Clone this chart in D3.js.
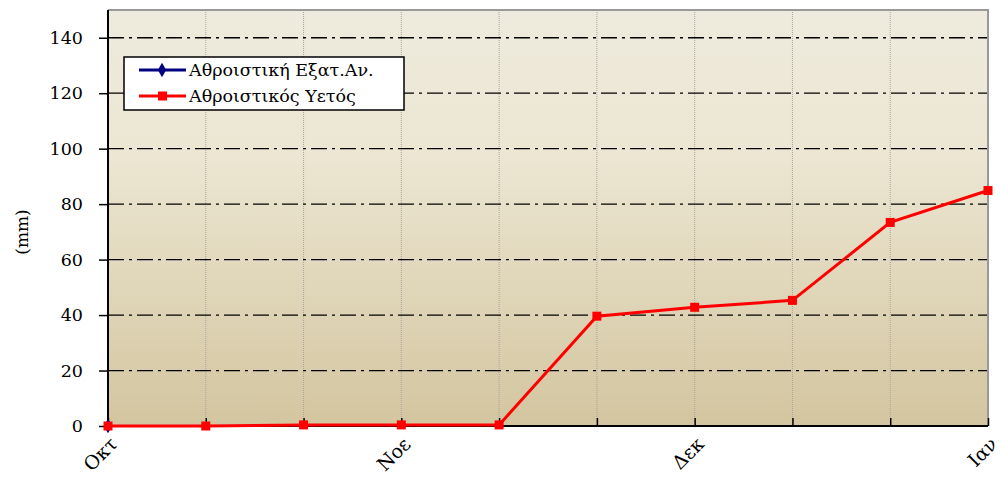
<!DOCTYPE html>
<html><head><meta charset="utf-8">
<script src="https://cdn.jsdelivr.net/npm/d3@7"></script>
<style>body{margin:0;background:#fff}svg{display:block}
text{font-family:"DejaVu Serif",serif}</style>
</head><body>
<svg id="c" width="1001" height="488"></svg>
<script>
const periods = [0,1,2,3,4,5,6,7,8,9];
const monthLabels = [{i:0,t:"Οκτ"},{i:3,t:"Νοε"},{i:6,t:"Δεκ"},{i:9,t:"Ιαν"}];
const evaporation = [0,null,null,null,null,null,null,null,null,null];
const rainfall = [0,0,0.4,0.4,0.4,39.6,42.8,45.3,73.4,84.9];
const yTicks = [0,20,40,60,80,100,120,140];
const seriesNames = ["Αθροιστική Εξατ.Αν.","Αθροιστικός Υετός"];

const svg = d3.select("#c");
const m = {l:108, r:988, t:10, b:426};
const x = d3.scaleLinear().domain([0,9]).range([m.l,m.r]);
const y = d3.scaleLinear().domain([0,150]).range([m.b,m.t]);

const defs = svg.append("defs");
const g = defs.append("linearGradient").attr("id","bg").attr("x1",0).attr("y1",0).attr("x2",0).attr("y2",1);
g.append("stop").attr("offset","0%").attr("stop-color","#EEEBDE");
g.append("stop").attr("offset","35%").attr("stop-color","#ECE6D2");
g.append("stop").attr("offset","100%").attr("stop-color","#D3C59F");

svg.append("rect").attr("x",m.l).attr("y",m.t).attr("width",m.r-m.l).attr("height",m.b-m.t).attr("fill","url(#bg)");

svg.append("g").selectAll("line").data(periods.slice(1)).join("line")
  .attr("x1",d=>x(d)).attr("x2",d=>x(d)).attr("y1",m.t).attr("y2",m.b)
  .attr("stroke","#a8a49a").attr("stroke-width",1).attr("stroke-dasharray","1,1");

svg.append("g").selectAll("line").data(yTicks.slice(1)).join("line")
  .attr("x1",m.l).attr("x2",m.r).attr("y1",d=>y(d)).attr("y2",d=>y(d))
  .attr("stroke","#000").attr("stroke-width",1.3).attr("stroke-dasharray","16,5,3,5");

svg.append("path").attr("d",`M${m.l},${m.t}H${m.r}V${m.b}`).attr("fill","none").attr("stroke","#999").attr("stroke-width",2);

const ya = svg.append("g").attr("transform",`translate(${m.l},0)`)
  .call(d3.axisLeft(y).tickValues(yTicks).tickSize(9).tickPadding(16).tickSizeOuter(0));
ya.attr("font-family",null).attr("font-size",null);
ya.select(".domain").attr("stroke","#000").attr("stroke-width",2).attr("d",`M0,${m.t}V${m.b}`);
ya.selectAll(".tick line").attr("stroke","#000").attr("stroke-width",1.5);
ya.selectAll(".tick text").attr("font-size",17.5).attr("fill","#000");

const xa = svg.append("g").attr("transform",`translate(0,${m.b})`)
  .call(d3.axisBottom(x).tickValues(periods).tickSize(-8).tickFormat("").tickSizeOuter(0));
xa.select(".domain").attr("stroke","#000").attr("stroke-width",2).attr("d",`M${m.l},0H${m.r}`);
xa.selectAll(".tick line").attr("stroke","#000").attr("stroke-width",1.5);

svg.append("g").selectAll("text").data(monthLabels).join("text")
  .attr("transform",d=>`translate(${x(d.i)+1},${m.b+10}) rotate(-45)`)
  .attr("text-anchor","end").attr("dy","0.7em")
  .attr("font-size",19).text(d=>d.t);

svg.append("text").attr("transform",`translate(28,${(m.t+m.b)/2+14}) rotate(-90)`)
  .attr("text-anchor","middle").attr("font-size",17).text("(mm)");

const line = d3.line().defined(d=>d!==null).x((d,i)=>x(periods[i])).y(d=>y(d));
svg.append("path").datum(evaporation).attr("d",line).attr("fill","none").attr("stroke","#000080").attr("stroke-width",3);
svg.append("g").selectAll("path").data(evaporation.map((v,i)=>({v,i})).filter(d=>d.v!==null)).join("path")
  .attr("d",d3.symbol(d3.symbolDiamond,60)).attr("transform",d=>`translate(${x(periods[d.i])},${y(d.v)})`).attr("fill","#000080");
svg.append("path").datum(rainfall).attr("d",line).attr("fill","none").attr("stroke","#ff0000").attr("stroke-width",3);
svg.append("g").selectAll("rect").data(rainfall).join("rect")
  .attr("x",(d,i)=>x(periods[i])-4.5).attr("y",d=>y(d)-4.5).attr("width",9).attr("height",9).attr("fill","#ff0000");

const lg = svg.append("g");
lg.append("rect").attr("x",124).attr("y",57).attr("width",280).attr("height",53).attr("fill","#fff").attr("stroke","#000").attr("stroke-width",1.5);
const cols = ["#000080","#ff0000"];
seriesNames.forEach((n,i)=>{
  const yy = 70 + i*26;
  lg.append("line").attr("x1",139).attr("x2",186).attr("y1",yy).attr("y2",yy).attr("stroke",cols[i]).attr("stroke-width",3);
  if(i===0) lg.append("path").attr("d",d3.symbol(d3.symbolDiamond,60)).attr("transform",`translate(162,${yy})`).attr("fill",cols[i]);
  else lg.append("rect").attr("x",158).attr("y",yy-4.5).attr("width",9).attr("height",9).attr("fill",cols[i]);
  lg.append("text").attr("x",189).attr("y",yy+6).attr("font-size",17.5).text(n);
});
</script>
</body></html>
